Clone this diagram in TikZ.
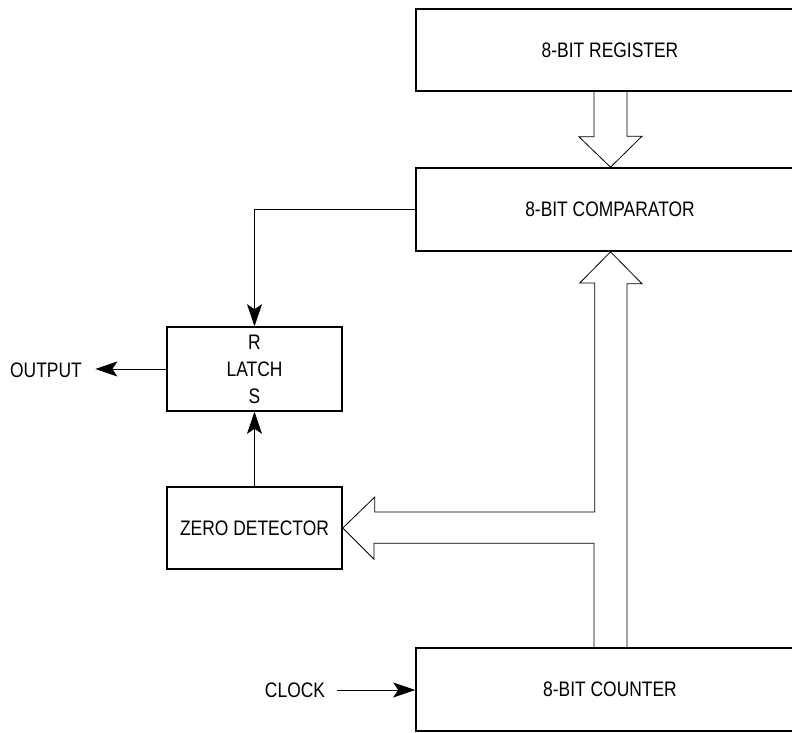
\documentclass[tikz,border=0pt]{standalone}
\usepackage{fontspec}
\setmainfont[FakeStretch=0.83]{Liberation Sans}
\usetikzlibrary{arrows.meta}

\begin{document}
\begin{tikzpicture}[x=1pt,y=-1pt,>={Stealth[length=22pt,width=15pt,inset=5pt]},
	font=\fontsize{21}{27}\selectfont]

\tikzset{
	blk/.style={draw,line width=1.6pt,inner sep=0pt},
	sig/.style={line width=0.8pt},
	bus/.style={line width=0.8pt,line join=miter}
}

\useasboundingbox (0,0) rectangle (792,732);

\node[blk,minimum width=388pt,minimum height=82pt] (reg) at (610,50) {8-BIT REGISTER};
\node[blk,minimum width=388pt,minimum height=83pt] (comp) at (610,209.5) {8-BIT COMPARATOR};
\node[blk,minimum width=175pt,minimum height=84pt,align=center] (latch) at (254.5,369) {R\\LATCH\\S};
\node[blk,minimum width=175pt,minimum height=82pt] (zero) at (254.5,528) {ZERO DETECTOR};
\node[blk,minimum width=388pt,minimum height=83pt] (cnt) at (610,689.5) {8-BIT COUNTER};

\node (out) at (46,370) {OUTPUT};
\node (clk) at (295,690) {CLOCK};

\draw[sig,->] (comp.west) -| (latch.north);
\draw[sig,->] (zero.north) -- (latch.south);
\draw[sig,->,shorten >=10pt] (latch.west) -- (latch.west -| out.east);
\draw[sig,->,shorten <=8pt] (clk.east) -- (clk.east -| cnt.west);

\coordinate (bl) at (594,0);
\coordinate (br) at (627,0);
\coordinate (bc) at (610.5,0);

\draw[bus] (bl |- reg.south) -- ++(0,45) -- ++(-15,0) -- (bc |- comp.north)
	-- ++(31.5,-31) -- ++(-15,0) -- (br |- reg.south);

\draw[bus] (bl |- cnt.north) -- ++(0,-104) -- ++(-220,0) -- ++(0,16) -- (zero.east)
	-- ++(32,-31) -- ++(0,15) -- ++(220,0) -- ++(0,-229) -- ++(-15,0)
	-- (bc |- comp.south) -- ++(31.5,32) -- ++(-15,0) -- (br |- cnt.north);

\end{tikzpicture}
\end{document}
